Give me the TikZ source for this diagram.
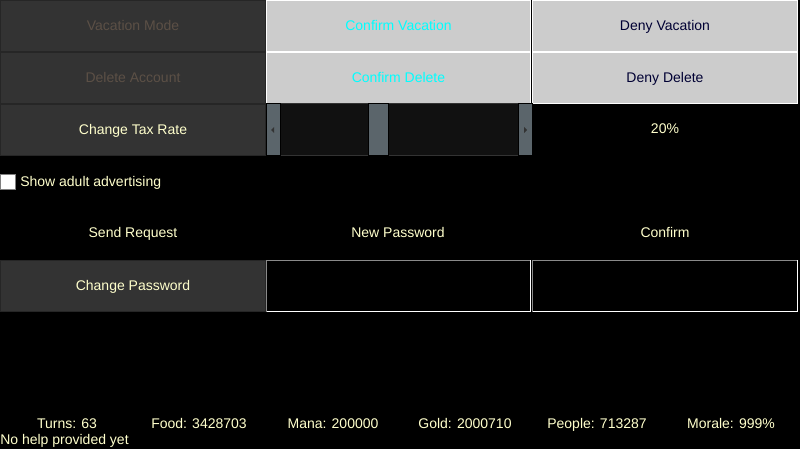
\documentclass[tikz,border=0pt]{standalone}
\usepackage{fontspec}
\setmainfont{Liberation Sans}
\definecolor{btndark}{HTML}{333333}
\definecolor{btnedge}{HTML}{262626}
\definecolor{btnlight}{HTML}{CCCCCC}
\definecolor{pale}{HTML}{FFFFCC}
\definecolor{disabled}{HTML}{5C5046}
\definecolor{navy}{HTML}{000033}
\definecolor{cyanish}{HTML}{00FFFF}
\definecolor{sbgray}{HTML}{5B656B}
\definecolor{sbtrack}{HTML}{111111}
\definecolor{fieldgray}{HTML}{8A8A8A}
\begin{document}
\begin{tikzpicture}[x=0.75pt,y=-0.75pt,
  font=\fontsize{10.5}{12}\selectfont,
  txt/.style={text height=7.6pt, text depth=0.3pt},
  cell/.style={anchor=north west, inner sep=0pt, outer sep=0pt, line width=0.75pt},
  darkbtn/.style={cell, txt, fill=btndark, draw=btnedge, text=pale},
  lightbtn/.style={cell, txt, fill=btnlight, draw=white},
  wideA/.style={minimum width=198.75pt},
  wideB/.style={minimum width=198pt},
  tallrow/.style={minimum height=38.25pt},
  lbl/.style={txt, text=pale, inner sep=0pt},
  sbpart/.style={cell, fill=sbgray, draw=black, minimum height=39pt},
  field/.style={cell, fill=black, minimum height=38.25pt}
]
\fill[black] (0,0) rectangle (800,449);
\useasboundingbox (0,0) rectangle (800,449);

% row 1
\node[darkbtn, wideA, tallrow, text=disabled] (vac) at (0.5,0.5) {Vacation Mode};
\node[lightbtn, wideB, tallrow, text=cyanish] (cvac) at (266.5,0.5) {Confirm Vacation};
\node[lightbtn, wideA, tallrow, text=navy] (dvac) at (532.5,0.5) {Deny Vacation};
% row 2
\node[darkbtn, wideA, tallrow, text=disabled] (del) at (0.5,52.5) {Delete Account};
\node[lightbtn, wideB, tallrow, text=cyanish] (cdel) at (266.5,52.5) {Confirm Delete};
\node[lightbtn, wideA, tallrow, text=navy] (ddel) at (532.5,52.5) {Deny Delete};
% row 3
\node[darkbtn, wideA, tallrow] (tax) at (0.5,104.5) {Change Tax Rate};
\node[cell, fill=sbtrack, draw=btndark, minimum width=198.75pt, minimum height=39pt] (track) at (266,104) {};
\node[sbpart, minimum width=10.5pt] (sbl) at (266,104) {};
\node[sbpart, minimum width=15pt] (thumb) at (368,104) {};
\node[sbpart, minimum width=10.5pt] (sbr) at (518,104) {};
\fill[black!80] (sbl.center) ++(-2,0) -- ++(3,-3) -- ++(0,6) -- cycle;
\fill[black!80] (sbr.center) ++(2,0) -- ++(-3,-3) -- ++(0,6) -- cycle;
\node[lbl] (rate) at (665,129) {20\%};

% checkbox
\node[cell, fill=white, draw=gray, minimum width=11.25pt, minimum height=11.25pt] (chk) at (0.5,174.5) {};
\node[lbl, anchor=west] (chklbl) at (20,182) {Show adult advertising};

% password row labels
\node[lbl] (send) at (133,233) {Send Request};
\node[lbl] (newpw) at (398,233) {New Password};
\node[lbl] (conf) at (665,233) {Confirm};

\node[darkbtn, wideA, tallrow] (chpw) at (0.5,260.5) {Change Password};
\node[field, minimum width=198pt] (pw1) at (266.5,260.5) {};
\node[field, minimum width=198.75pt] (pw2) at (532.5,260.5) {};
\draw[fieldgray, line width=0.75pt] (pw1.south west) -- (pw1.north west) -- (pw1.north east);
\draw[white, line width=1.2pt] (pw1.south west) -- (pw1.south east) -- (pw1.north east);
\draw[fieldgray, line width=0.75pt] (pw2.south west) -- (pw2.north west) -- (pw2.north east);
\draw[white, line width=1.2pt] (pw2.south west) -- (pw2.south east) -- (pw2.north east);

% status bar
\node[lbl] (turns) at (67,424) {Turns: 63};
\node[lbl] (food) at (199,424) {Food: 3428703};
\node[lbl] (mana) at (333,424) {Mana: 200000};
\node[lbl] (gold) at (465,424) {Gold: 2000710};
\node[lbl] (people) at (597,424) {People: 713287};
\node[lbl] (morale) at (731,424) {Morale: 999\%};
\node[lbl, anchor=west] (help) at (0,440) {No help provided yet};
\end{tikzpicture}
\end{document}
